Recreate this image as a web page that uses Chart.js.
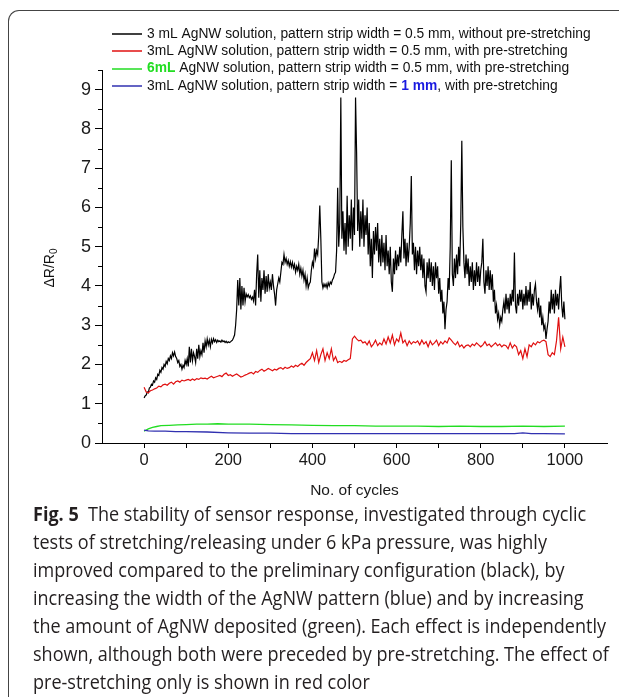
<!DOCTYPE html>
<html><head><meta charset="utf-8">
<script src="https://cdn.jsdelivr.net/npm/chart.js@4/dist/chart.umd.min.js"></script>
<style>
html,body{margin:0;padding:0;background:#fff;width:619px;height:697px;overflow:hidden;position:relative;}
#frame{position:absolute;left:8px;top:10px;width:660px;height:720px;border-left:1.5px solid #444;border-top:1.5px solid #444;border-top-left-radius:11px;}
#wrap{position:absolute;left:0;top:0;width:619px;height:505px;}
#cap{position:absolute;left:33px;top:500px;font-family:'Open Sans',sans-serif;font-size:20px;color:#231f20;line-height:28px;white-space:nowrap;}
#cap div{transform-origin:0 0;}
</style></head>
<body>
<div id="frame"></div>
<div id="wrap"><canvas id="c" width="619" height="505"></canvas></div>
<div id="cap">
<div><b>Fig. 5</b>&nbsp; The stability of sensor response, investigated through cyclic</div>
<div>tests of stretching/releasing under 6 kPa pressure, was highly</div>
<div>improved compared to the preliminary configuration (black), by</div>
<div>increasing the width of the AgNW pattern (blue) and by increasing</div>
<div>the amount of AgNW deposited (green). Each effect is independently</div>
<div>shown, although both were preceded by pre-stretching. The effect of</div>
<div>pre-stretching only is shown in red color</div>
</div>
<script>
// cycle grids: black trace sampled every 2.5 cycles, red every 5 cycles
const blackCycles = Array.from({length:401}, (_, i) => i * 2.5);
const redCycles = Array.from({length:201}, (_, i) => i * 5);

const blackValues = [
1.15,1.2,1.22,1.3,1.28,1.4,1.42,1.5,1.48,1.58,
1.55,1.66,1.62,1.75,1.72,1.85,1.8,1.92,1.88,2.0,
1.95,2.08,2.02,2.15,2.1,2.22,2.15,2.3,2.22,2.32,
2.2,2.15,2.05,2.1,1.95,2.0,1.88,1.98,1.92,2.1,
2.0,2.15,1.95,2.45,2.05,2.4,2.1,2.3,2.2,2.05,
2.4,2.15,2.5,2.2,2.35,2.25,2.55,2.3,2.6,2.45,
2.65,2.5,2.62,2.45,2.64,2.55,2.66,2.58,2.63,2.56,
2.62,2.58,2.6,2.57,2.62,2.58,2.6,2.56,2.59,2.55,
2.58,2.56,2.57,2.6,2.62,2.68,2.75,3.0,3.4,4.15,
3.5,4.2,3.4,4.0,3.5,3.95,3.6,3.8,3.72,3.78,
3.7,3.75,3.66,3.72,3.62,3.9,3.5,4.3,4.8,3.7,
4.4,3.6,4.2,3.9,4.4,3.8,4.25,3.85,4.3,3.95,
4.1,3.9,4.3,4.0,3.8,3.5,3.9,4.05,4.2,4.1,
4.35,4.6,4.55,4.8,4.6,4.7,4.55,4.65,4.5,4.62,
4.48,4.6,4.45,4.55,4.35,4.5,4.4,4.55,4.3,4.45,
4.25,4.4,4.15,4.3,4.0,4.2,3.95,4.05,4.1,4.4,
4.6,4.5,4.95,4.7,4.9,4.8,5.3,6.05,5.2,4.1,
3.95,4.05,3.98,4.05,3.95,4.08,4.0,4.1,4.05,4.15,
4.2,4.3,4.35,4.9,6.5,5.0,5.6,8.8,5.2,5.9,
4.9,5.6,4.8,6.3,5.0,5.8,5.2,6.2,4.9,6.0,
5.3,8.8,7.4,5.4,6.2,5.0,5.9,5.2,6.2,5.0,
5.8,5.3,6.0,4.8,5.6,4.5,5.2,4.2,5.4,4.8,
5.5,4.9,5.6,4.6,5.2,4.5,5.3,4.6,5.1,4.4,
5.3,4.5,4.9,4.3,5.0,4.1,3.85,4.7,4.3,4.9,
4.4,4.8,4.5,5.0,4.6,5.3,5.9,4.7,5.2,4.5,
5.1,4.6,5.0,5.6,6.8,4.8,5.1,4.4,5.0,4.3,
4.9,4.5,5.0,4.4,4.8,4.2,4.7,4.0,3.85,4.6,
4.2,4.7,4.1,4.6,4.0,4.5,3.9,4.6,4.2,4.5,
3.8,4.2,3.6,3.9,3.3,3.6,2.9,3.4,3.6,4.2,
3.9,5.0,7.2,4.3,4.0,4.7,4.2,4.8,4.3,5.0,
4.5,5.6,7.7,5.5,4.6,4.2,4.8,4.3,4.7,4.0,
4.5,4.1,4.6,3.9,4.4,4.0,4.6,4.1,4.5,4.0,
4.4,4.6,5.2,4.1,3.8,4.4,4.0,4.5,3.9,4.4,
3.9,4.3,3.6,3.9,3.3,3.5,3.15,3.3,3.0,3.2,
3.1,3.4,3.6,3.3,3.8,3.4,3.7,3.3,3.8,3.5,
3.9,3.6,4.85,3.5,3.3,3.8,3.5,3.9,3.6,3.9,
3.4,3.8,3.5,4.0,3.5,3.9,3.6,4.1,3.4,3.8,
3.5,3.9,4.05,3.6,3.4,3.7,3.2,3.5,3.0,3.2,
2.9,3.0,2.65,2.9,3.1,3.6,3.3,3.9,3.4,3.8,
3.3,3.9,3.5,3.8,3.4,3.9,4.25,3.5,3.2,3.6,
3.15
];

const redValues = [
1.42,1.3,1.28,1.33,1.35,1.38,1.4,1.45,1.43,1.48,
1.5,1.47,1.52,1.55,1.5,1.56,1.58,1.55,1.6,1.58,
1.6,1.62,1.59,1.63,1.6,1.64,1.62,1.66,1.64,1.65,
1.63,1.67,1.7,1.66,1.68,1.7,1.72,1.69,1.75,1.78,
1.72,1.74,1.7,1.73,1.76,1.72,1.68,1.7,1.73,1.75,
1.78,1.8,1.76,1.82,1.8,1.85,1.88,1.83,1.86,1.9,
1.87,1.84,1.88,1.86,1.9,1.92,1.88,1.93,1.9,1.92,
1.96,1.93,1.98,1.95,2.0,2.03,1.98,2.05,2.1,2.15,
2.3,2.1,2.35,2.05,2.25,2.4,2.1,2.3,2.15,2.4,
2.1,2.2,2.05,2.08,2.05,2.1,2.08,2.12,2.15,2.65,
2.72,2.65,2.6,2.62,2.55,2.58,2.5,2.6,2.45,2.52,
2.62,2.48,2.55,2.5,2.65,2.52,2.7,2.55,2.75,2.5,
2.65,2.58,2.8,2.55,2.62,2.48,2.6,2.52,2.58,2.55,
2.6,2.5,2.62,2.52,2.58,2.45,2.6,2.5,2.55,2.62,
2.48,2.58,2.52,2.6,2.55,2.68,2.62,2.55,2.5,2.58,
2.45,2.5,2.42,2.48,2.5,2.45,2.52,2.48,2.55,2.5,
2.45,2.5,2.58,2.48,2.52,2.45,2.5,2.55,2.48,2.52,
2.45,2.5,2.48,2.4,2.55,2.42,2.5,2.45,2.25,2.35,
2.15,2.4,2.2,2.5,2.45,2.55,2.5,2.58,2.55,2.6,
2.62,2.58,2.25,2.2,2.3,2.25,2.6,3.2,2.4,2.7,
2.45
];

const greenCycles = [0,10,20,30,40,60,80,100,125,150,175,200,250,300,350,400,450,500,550,600,650,700,750,800,850,900,950,1000];
const greenValues = [0.3,0.36,0.4,0.42,0.44,0.45,0.46,0.47,0.48,0.48,0.49,0.48,0.48,0.47,0.46,0.45,0.44,0.44,0.43,0.43,0.43,0.42,0.43,0.42,0.42,0.43,0.42,0.43];

const blueCycles = [0,10,25,50,75,100,150,200,250,300,350,400,450,500,600,700,800,880,900,920,950,1000];
const blueValues = [0.33,0.31,0.3,0.3,0.29,0.29,0.28,0.26,0.25,0.25,0.24,0.24,0.24,0.24,0.24,0.24,0.24,0.24,0.26,0.24,0.24,0.23];

const xTickValues = [0,100,200,300,400,500,600,700,800,900,1000];
const yTickValues = [0,1,2,3,4,5,6,7,8,9];
const yMinorValues = [0.5,1.5,2.5,3.5,4.5,5.5,6.5,7.5,8.5,9.5];

const seriesColors = ['#000000','#e01010','#22dd22','#3030b0'];
const legendRows = [
  [{t:'3 mL AgNW solution, pattern strip width = 0.5 mm, without pre-stretching'}],
  [{t:'3mL AgNW solution, pattern strip width = 0.5 mm, with pre-stretching'}],
  [{t:'6mL', b:true, c:'#22dd22'}, {t:' AgNW solution, pattern strip width = 0.5 mm, with pre-stretching'}],
  [{t:'3mL AgNW solution, pattern strip width = '}, {t:'1 mm', b:true, c:'#1a1ae0'}, {t:', with pre-stretching'}]
];

const toPts = (xs, ys) => xs.map((x, i) => ({x, y: ys[i]}));

const FONT = '"Liberation Sans", Arial, sans-serif';

const custom = {
  id: 'custom',
  afterDraw(chart) {
    const ctx = chart.ctx, ys = chart.scales.y;
    ctx.save();
    ctx.strokeStyle = '#000'; ctx.lineWidth = 1;
    yMinorValues.forEach(v => {
      const py = Math.round(ys.getPixelForValue(v)) + 0.5;
      ctx.beginPath(); ctx.moveTo(chart.chartArea.left - 4, py); ctx.lineTo(chart.chartArea.left, py); ctx.stroke();
    });
    ctx.save();
    ctx.translate(50, 268); ctx.rotate(-Math.PI / 2);
    ctx.fillStyle = '#111'; ctx.textBaseline = 'middle';
    ctx.font = '14px ' + FONT;
    const main = '\u0394R/R';
    const wm = ctx.measureText(main).width;
    ctx.font = '10px ' + FONT;
    const ws = ctx.measureText('0').width;
    const sx = -(wm + ws) / 2;
    ctx.font = '14px ' + FONT;
    ctx.fillText(main, sx, 0);
    ctx.font = '10px ' + FONT;
    ctx.fillText('0', sx + wm, 4);
    ctx.restore();
    const rowsY = [34, 51, 68.5, 86];
    legendRows.forEach((segs, i) => {
      const y = rowsY[i];
      ctx.strokeStyle = seriesColors[i]; ctx.lineWidth = 1.5;
      ctx.beginPath(); ctx.moveTo(112, Math.round(y)); ctx.lineTo(142, Math.round(y)); ctx.stroke();
      let x = 147;
      ctx.textBaseline = 'middle';
      segs.forEach(s => {
        ctx.font = (s.b ? 'bold ' : '') + '13.8px ' + FONT;
        ctx.fillStyle = s.c || '#111';
        ctx.fillText(s.t, x, y);
        x += ctx.measureText(s.t).width;
      });
    });
    ctx.restore();
  }
};

new Chart(document.getElementById('c'), {
  type: 'line',
  data: {
    datasets: [
      {label:'black', data: toPts(blackCycles, blackValues), borderColor: seriesColors[0], borderWidth: 1.2, order: 4},
      {label:'red', data: toPts(redCycles, redValues), borderColor: seriesColors[1], borderWidth: 1.2, order: 3},
      {label:'green', data: toPts(greenCycles, greenValues), borderColor: seriesColors[2], borderWidth: 1.3, order: 2},
      {label:'blue', data: toPts(blueCycles, blueValues), borderColor: seriesColors[3], borderWidth: 1.3, order: 1}
    ]
  },
  options: {
    responsive: false, animation: false,
    elements: { point: { radius: 0 }, line: { tension: 0 } },
    layout: { padding: { top: 70, right: 12, left: 0, bottom: 0 } },
    plugins: { legend: { display: false }, tooltip: { enabled: false } },
    scales: {
      x: {
        type: 'linear', min: -100, max: 1100,
        afterFit: s => { s.height = 505 - 443; },
        afterBuildTicks: s => { s.ticks = xTickValues.map(v => ({value: v})); },
        grid: { drawOnChartArea: false, drawTicks: true, tickLength: 5, color: '#000' },
        border: { color: '#000', width: 1 },
        ticks: { autoSkip: false, maxRotation: 0, padding: 3, color: '#1a1a1a',
          font: { family: FONT, size: 16.5 },
          callback: v => (v % 200 === 0 ? String(v) : '') },
        title: { display: true, text: 'No. of cycles', color: '#1a1a1a',
          font: { family: FONT, size: 15.5 }, padding: { top: 0, bottom: 5 } }
      },
      y: {
        min: 0, max: 9.5,
        afterFit: s => { s.width = 102; },
        afterBuildTicks: s => { s.ticks = yTickValues.map(v => ({value: v})); },
        grid: { drawOnChartArea: false, drawTicks: true, tickLength: 7, color: '#000' },
        border: { color: '#000', width: 1 },
        ticks: { autoSkip: false, padding: 4, color: '#1a1a1a', font: { family: FONT, size: 18 } }
      }
    }
  },
  plugins: [custom]
});

(function(){
  const lines = document.querySelectorAll('#cap div');
  const ref = lines[4];
  const range = document.createRange(); range.selectNodeContents(ref);
  const w = range.getBoundingClientRect().width;
  const s = 573 / w;
  lines.forEach(l => { l.style.transform = 'scaleX(' + s + ')'; });
})();
</script>
</body></html>
